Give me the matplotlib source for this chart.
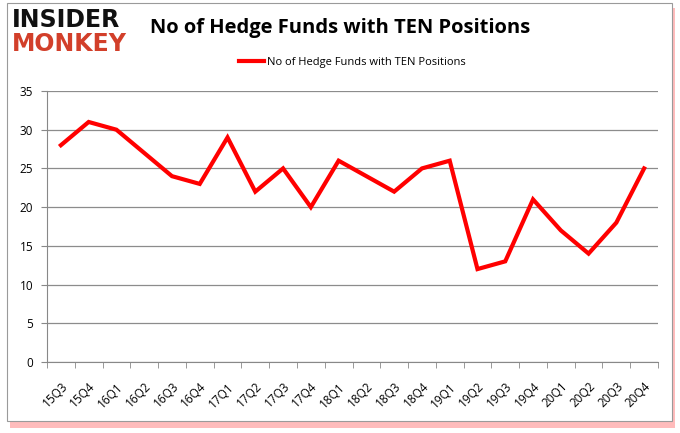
import matplotlib.pyplot as plt
from matplotlib.patches import Rectangle

quarters = ['15Q3', '15Q4', '16Q1', '16Q2', '16Q3', '16Q4', '17Q1', '17Q2', '17Q3', '17Q4',
            '18Q1', '18Q2', '18Q3', '18Q4', '19Q1', '19Q2', '19Q3', '19Q4', '20Q1', '20Q2',
            '20Q3', '20Q4']
hedge_funds = [28, 31, 30, 27, 24, 23, 29, 22, 25, 20,
               26, 24, 22, 25, 26, 12, 13, 21, 17, 14,
               18, 25]
series_name = 'No of Hedge Funds with TEN Positions'

plt.rcParams['font.family'] = ['Open Sans', 'DejaVu Sans']

fig = plt.figure(figsize=(6.8, 4.33), dpi=100)
fig.patch.set_facecolor('white')

# frame with red shadow
fig.patches.append(Rectangle((10 / 680, 1 - 428 / 433), 665 / 680, 420 / 433,
                             transform=fig.transFigure, facecolor='#ff4040',
                             edgecolor='none', alpha=0.35, zorder=0))
fig.patches.append(Rectangle((7 / 680, 1 - 421 / 433), 665 / 680, 418 / 433,
                             transform=fig.transFigure, facecolor='white',
                             edgecolor='#9a9a9a', linewidth=0.8, zorder=1))

ax = fig.add_axes([47 / 680, 1 - 362 / 433, 611 / 680, 271 / 433])
ax.set_zorder(2)
x = list(range(len(quarters)))
ax.plot(x, hedge_funds, color='#ff0000', linewidth=3, label=series_name,
        solid_joinstyle='miter')

ax.set_xlim(-0.5, len(quarters) - 0.5)
ax.set_ylim(0, 35)
ax.set_yticks(range(0, 36, 5))
ax.set_xticks(x)
ax.set_xticklabels(quarters, rotation=45, fontsize=8.5, ha='right', rotation_mode='anchor')
ax.set_xticks([i - 0.5 for i in range(len(quarters) + 1)], minor=True)
ax.tick_params(axis='x', which='major', length=0, pad=13)
ax.tick_params(axis='x', which='minor', length=4, color='#888888')
ax.tick_params(axis='y', length=4, color='#888888', labelsize=8.5, pad=6)
ax.yaxis.grid(True, color='#8c8c8c', linewidth=0.9)
ax.set_axisbelow(True)
for side in ['top', 'right']:
    ax.spines[side].set_visible(False)
for side in ['left', 'bottom']:
    ax.spines[side].set_color('#888888')

ax.legend(loc='center', bbox_to_anchor=(0.5, 1 + 29 / 271), frameon=False,
          fontsize=8, handlelength=2.2, handletextpad=0.3)

fig.text(0.5, 1 - 28 / 433, 'No of Hedge Funds with TEN Positions', ha='center',
         va='center', fontsize=14.5, fontweight='bold')
# logo
fig.text(12 / 680, 1 - 20 / 433, 'INSIDER', ha='left', va='center', fontsize=17,
         fontweight='heavy', color='#111111', family='DejaVu Sans')
fig.text(12 / 680, 1 - 44 / 433, 'MONKEY', ha='left', va='center', fontsize=17,
         fontweight='heavy', color='#d23f2a', family='DejaVu Sans')

plt.savefig('out.png', dpi=100)
